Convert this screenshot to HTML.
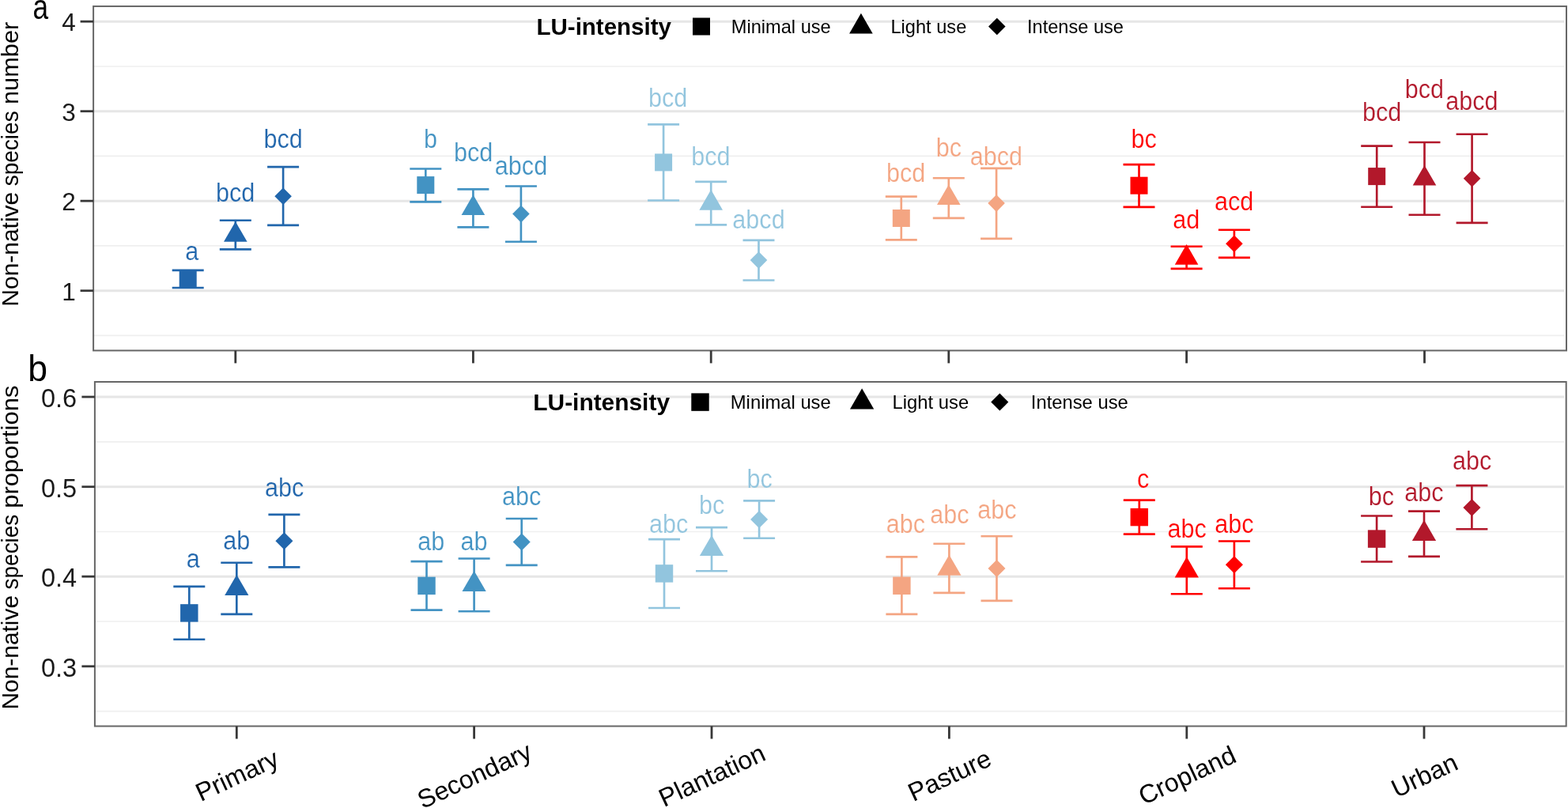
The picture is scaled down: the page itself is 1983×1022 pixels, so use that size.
<!DOCTYPE html>
<html lang="en">
<head>
<meta charset="utf-8">
<title>Non-native species by land use and LU-intensity</title>
<style>
html,body{margin:0;padding:0;background:#fff;}
body{width:1983px;height:1022px;overflow:hidden;}
svg{display:block;}
text{font-family:"Liberation Sans", sans-serif;}
.sig{font-size:33.5px;stroke:#fff;stroke-width:0.2px;}
.tick{font-size:31.5px;fill:#1a1a1a;}
.leg{font-size:23.6px;}
.legt{font-size:29px;font-weight:bold;}
.xlab{font-size:32.4px;}
.ytitle{font-family:"Liberation Sans", sans-serif;font-size:29.5px;}
.plab{font-family:"Liberation Sans", sans-serif;font-size:44px;}
</style>
</head>
<body>
<svg width="1983" height="1022" viewBox="0 0 1983 1022">
<rect width="1983" height="1022" fill="#ffffff"/>
<g class="panel-a">
<rect x="118.1" y="7.95" width="1862.9" height="435.45" fill="#ffffff"/>
<line x1="118.1" x2="1978.4" y1="83.95" y2="83.95" stroke="#efefef" stroke-width="1.6"/>
<line x1="118.1" x2="1978.4" y1="197.4" y2="197.4" stroke="#efefef" stroke-width="1.6"/>
<line x1="118.1" x2="1978.4" y1="310.9" y2="310.9" stroke="#efefef" stroke-width="1.6"/>
<line x1="118.1" x2="1978.4" y1="424.4" y2="424.4" stroke="#efefef" stroke-width="1.6"/>
<line x1="118.1" x2="1978.4" y1="27.2" y2="27.2" stroke="#e6e6e6" stroke-width="3"/>
<line x1="118.1" x2="1978.4" y1="140.7" y2="140.7" stroke="#e6e6e6" stroke-width="3"/>
<line x1="118.1" x2="1978.4" y1="254.15" y2="254.15" stroke="#e6e6e6" stroke-width="3"/>
<line x1="118.1" x2="1978.4" y1="367.7" y2="367.7" stroke="#e6e6e6" stroke-width="3"/>
<g class="grp" fill="#2166ac">
<path d="M217.7 341.8H257.7M237.7 341.8V364M217.7 364H257.7" stroke="#2166ac" stroke-width="2.65" fill="none"/>
<rect x="226.7" y="341.9" width="22" height="22" fill="#2166ac"/>
<text class="sig" transform="translate(242.7 329.4) scale(0.913 1)" text-anchor="middle" fill="#2166ac">a</text>
<path d="M277.8 278.7H317.8M297.8 278.7V315.4M277.8 315.4H317.8" stroke="#2166ac" stroke-width="2.65" fill="none"/>
<polygon points="297.8,280.2 312.61,305.85 282.99,305.85" fill="#2166ac"/>
<text class="sig" transform="translate(297.6 254.6) scale(0.913 1)" text-anchor="middle" fill="#2166ac">bcd</text>
<path d="M338.1 211.1H378.1M358.1 211.1V284.9M338.1 284.9H378.1" stroke="#2166ac" stroke-width="2.65" fill="none"/>
<polygon points="358.1,237.4 368.9,248.2 358.1,259 347.3,248.2" fill="#2166ac"/>
<text class="sig" transform="translate(358.1 187) scale(0.913 1)" text-anchor="middle" fill="#2166ac">bcd</text>
</g>
<g class="grp" fill="#4393c3">
<path d="M518.3 213.5H558.3M538.3 213.5V255.3M518.3 255.3H558.3" stroke="#4393c3" stroke-width="2.65" fill="none"/>
<rect x="527.3" y="223.1" width="22" height="22" fill="#4393c3"/>
<text class="sig" transform="translate(544.5 187) scale(0.913 1)" text-anchor="middle" fill="#4393c3">b</text>
<path d="M578.4 239.4H618.4M598.4 239.4V287.4M578.4 287.4H618.4" stroke="#4393c3" stroke-width="2.65" fill="none"/>
<polygon points="598.4,246.3 613.21,271.95 583.59,271.95" fill="#4393c3"/>
<text class="sig" transform="translate(598.6 204.4) scale(0.913 1)" text-anchor="middle" fill="#4393c3">bcd</text>
<path d="M638.9 235.5H678.9M658.9 235.5V305.7M638.9 305.7H678.9" stroke="#4393c3" stroke-width="2.65" fill="none"/>
<polygon points="658.9,259.8 669.7,270.6 658.9,281.4 648.1,270.6" fill="#4393c3"/>
<text class="sig" transform="translate(659 221.3) scale(0.913 1)" text-anchor="middle" fill="#4393c3">abcd</text>
</g>
<g class="grp" fill="#92c5de">
<path d="M819.1 157.3H859.1M839.1 157.3V253.5M819.1 253.5H859.1" stroke="#92c5de" stroke-width="2.65" fill="none"/>
<rect x="828.1" y="194.4" width="22" height="22" fill="#92c5de"/>
<text class="sig" transform="translate(844.7 135.1) scale(0.913 1)" text-anchor="middle" fill="#92c5de">bcd</text>
<path d="M879.2 229.8H919.2M899.2 229.8V284.4M879.2 284.4H919.2" stroke="#92c5de" stroke-width="2.65" fill="none"/>
<polygon points="899.2,240 914.01,265.65 884.39,265.65" fill="#92c5de"/>
<text class="sig" transform="translate(898.8 208.7) scale(0.913 1)" text-anchor="middle" fill="#92c5de">bcd</text>
<path d="M939.5 303.9H979.5M959.5 303.9V354.5M939.5 354.5H979.5" stroke="#92c5de" stroke-width="2.65" fill="none"/>
<polygon points="959.5,318.3 970.3,329.1 959.5,339.9 948.7,329.1" fill="#92c5de"/>
<text class="sig" transform="translate(959.5 289.4) scale(0.913 1)" text-anchor="middle" fill="#92c5de">abcd</text>
</g>
<g class="grp" fill="#f4a582">
<path d="M1119.8 248.6H1159.8M1139.8 248.6V303.4M1119.8 303.4H1159.8" stroke="#f4a582" stroke-width="2.65" fill="none"/>
<rect x="1128.8" y="265" width="22" height="22" fill="#f4a582"/>
<text class="sig" transform="translate(1145.7 229.8) scale(0.913 1)" text-anchor="middle" fill="#f4a582">bcd</text>
<path d="M1179.8 225.2H1219.8M1199.8 225.2V275.9M1179.8 275.9H1219.8" stroke="#f4a582" stroke-width="2.65" fill="none"/>
<polygon points="1199.8,233.4 1214.61,259.05 1184.99,259.05" fill="#f4a582"/>
<text class="sig" transform="translate(1200 198.1) scale(0.913 1)" text-anchor="middle" fill="#f4a582">bc</text>
<path d="M1240.1 212.9H1280.1M1260.1 212.9V301.9M1240.1 301.9H1280.1" stroke="#f4a582" stroke-width="2.65" fill="none"/>
<polygon points="1260.1,246.3 1270.9,257.1 1260.1,267.9 1249.3,257.1" fill="#f4a582"/>
<text class="sig" transform="translate(1259.9 208.8) scale(0.913 1)" text-anchor="middle" fill="#f4a582">abcd</text>
</g>
<g class="grp" fill="#ff0000">
<path d="M1420.5 208.1H1460.5M1440.5 208.1V261.9M1420.5 261.9H1460.5" stroke="#ff0000" stroke-width="2.65" fill="none"/>
<rect x="1429.5" y="223.7" width="22" height="22" fill="#ff0000"/>
<text class="sig" transform="translate(1446.6 187) scale(0.913 1)" text-anchor="middle" fill="#ff0000">bc</text>
<path d="M1480.6 311.7H1520.6M1500.6 311.7V339.8M1480.6 339.8H1520.6" stroke="#ff0000" stroke-width="2.65" fill="none"/>
<polygon points="1500.6,309 1515.41,334.65 1485.79,334.65" fill="#ff0000"/>
<text class="sig" transform="translate(1500.3 289.4) scale(0.913 1)" text-anchor="middle" fill="#ff0000">ad</text>
<path d="M1540.9 290.7H1580.9M1560.9 290.7V325.8M1540.9 325.8H1580.9" stroke="#ff0000" stroke-width="2.65" fill="none"/>
<polygon points="1560.9,297.5 1571.7,308.3 1560.9,319.1 1550.1,308.3" fill="#ff0000"/>
<text class="sig" transform="translate(1560.7 265.8) scale(0.913 1)" text-anchor="middle" fill="#ff0000">acd</text>
</g>
<g class="grp" fill="#b2182b">
<path d="M1721.2 184.6H1761.2M1741.2 184.6V261.7M1721.2 261.7H1761.2" stroke="#b2182b" stroke-width="2.65" fill="none"/>
<rect x="1730.2" y="212.1" width="22" height="22" fill="#b2182b"/>
<text class="sig" transform="translate(1747.7 152.6) scale(0.913 1)" text-anchor="middle" fill="#b2182b">bcd</text>
<path d="M1781.5 180H1821.5M1801.5 180V271.7M1781.5 271.7H1821.5" stroke="#b2182b" stroke-width="2.65" fill="none"/>
<polygon points="1801.5,208.9 1816.31,234.55 1786.69,234.55" fill="#b2182b"/>
<text class="sig" transform="translate(1801.4 123.6) scale(0.913 1)" text-anchor="middle" fill="#b2182b">bcd</text>
<path d="M1841.6 169.7H1881.6M1861.6 169.7V281.8M1841.6 281.8H1881.6" stroke="#b2182b" stroke-width="2.65" fill="none"/>
<polygon points="1861.6,215 1872.4,225.8 1861.6,236.6 1850.8,225.8" fill="#b2182b"/>
<text class="sig" transform="translate(1861.3 139.1) scale(0.913 1)" text-anchor="middle" fill="#b2182b">abcd</text>
</g>
<text class="legt" x="678.5" y="44" style="font-size:29.5px">LU-intensity</text>
<rect x="876" y="22.5" width="22" height="22" fill="#000"/>
<text class="leg" x="924.8" y="42" style="font-size:23.6px">Minimal use</text>
<polygon points="1088.9,16.8 1103.71,42.45 1074.09,42.45" fill="#000"/>
<text class="leg" x="1126.5" y="42" style="font-size:23.6px">Light use</text>
<polygon points="1260.8,22.7 1271.6,33.5 1260.8,44.3 1250,33.5" fill="#000"/>
<text class="leg" x="1299" y="42" style="font-size:23.6px">Intense use</text>
<rect x="118.1" y="7.95" width="1862.9" height="435.45" fill="none" stroke="#666666" stroke-width="2"/>
<line x1="101.6" x2="118.1" y1="27.2" y2="27.2" stroke="#383838" stroke-width="2.8"/>
<text class="tick" x="95.7" y="39.2" text-anchor="end" style="font-size:31.5px">4</text>
<line x1="101.6" x2="118.1" y1="140.7" y2="140.7" stroke="#383838" stroke-width="2.8"/>
<text class="tick" x="95.7" y="152.7" text-anchor="end" style="font-size:31.5px">3</text>
<line x1="101.6" x2="118.1" y1="254.15" y2="254.15" stroke="#383838" stroke-width="2.8"/>
<text class="tick" x="95.7" y="266.15" text-anchor="end" style="font-size:31.5px">2</text>
<line x1="101.6" x2="118.1" y1="367.7" y2="367.7" stroke="#383838" stroke-width="2.8"/>
<text class="tick" x="95.7" y="379.7" text-anchor="end" style="font-size:31.5px">1</text>
<line x1="297.8" x2="297.8" y1="443.4" y2="459.4" stroke="#383838" stroke-width="2.8"/>
<line x1="598.4" x2="598.4" y1="443.4" y2="459.4" stroke="#383838" stroke-width="2.8"/>
<line x1="899.2" x2="899.2" y1="443.4" y2="459.4" stroke="#383838" stroke-width="2.8"/>
<line x1="1199.8" x2="1199.8" y1="443.4" y2="459.4" stroke="#383838" stroke-width="2.8"/>
<line x1="1500.6" x2="1500.6" y1="443.4" y2="459.4" stroke="#383838" stroke-width="2.8"/>
<line x1="1801.5" x2="1801.5" y1="443.4" y2="459.4" stroke="#383838" stroke-width="2.8"/>
<text class="plab" transform="translate(41.5 23.6) scale(0.8 1)" style="font-size:44px">a</text>
<text class="ytitle" transform="translate(22.6 0) rotate(-90)"><tspan x="-387.7" textLength="144.95" lengthAdjust="spacingAndGlyphs">Non-native</tspan> <tspan x="-235.3" textLength="94.93" lengthAdjust="spacingAndGlyphs">species</tspan> <tspan x="-132.1" textLength="104.43" lengthAdjust="spacingAndGlyphs">number</tspan></text>
</g>
<g class="panel-b">
<rect x="119.9" y="483" width="1860.8" height="435.5" fill="#ffffff"/>
<line x1="119.9" x2="1978.1" y1="558.85" y2="558.85" stroke="#efefef" stroke-width="1.6"/>
<line x1="119.9" x2="1978.1" y1="672.45" y2="672.45" stroke="#efefef" stroke-width="1.6"/>
<line x1="119.9" x2="1978.1" y1="786" y2="786" stroke="#efefef" stroke-width="1.6"/>
<line x1="119.9" x2="1978.1" y1="899.6" y2="899.6" stroke="#efefef" stroke-width="1.6"/>
<line x1="119.9" x2="1978.1" y1="502" y2="502" stroke="#e6e6e6" stroke-width="3"/>
<line x1="119.9" x2="1978.1" y1="615.7" y2="615.7" stroke="#e6e6e6" stroke-width="3"/>
<line x1="119.9" x2="1978.1" y1="729.2" y2="729.2" stroke="#e6e6e6" stroke-width="3"/>
<line x1="119.9" x2="1978.1" y1="842.8" y2="842.8" stroke="#e6e6e6" stroke-width="3"/>
<g class="grp" fill="#2166ac">
<path d="M219.3 741.9H259.3M239.3 741.9V808.7M219.3 808.7H259.3" stroke="#2166ac" stroke-width="2.65" fill="none"/>
<rect x="228.08" y="764.18" width="22.44" height="22.44" fill="#2166ac"/>
<text class="sig" transform="translate(244.3 718.4) scale(0.913 1)" text-anchor="middle" fill="#2166ac">a</text>
<path d="M279.3 711.7H319.3M299.3 711.7V776.8M279.3 776.8H319.3" stroke="#2166ac" stroke-width="2.65" fill="none"/>
<polygon points="299.3,726.96 314.41,753.12 284.19,753.12" fill="#2166ac"/>
<text class="sig" transform="translate(299.2 695.4) scale(0.913 1)" text-anchor="middle" fill="#2166ac">ab</text>
<path d="M339.4 650.8H379.4M359.4 650.8V717.3M339.4 717.3H379.4" stroke="#2166ac" stroke-width="2.65" fill="none"/>
<polygon points="359.4,673.18 370.42,684.2 359.4,695.22 348.38,684.2" fill="#2166ac"/>
<text class="sig" transform="translate(359.6 628.3) scale(0.913 1)" text-anchor="middle" fill="#2166ac">abc</text>
</g>
<g class="grp" fill="#4393c3">
<path d="M519.5 710.1H559.5M539.5 710.1V771.6M519.5 771.6H559.5" stroke="#4393c3" stroke-width="2.65" fill="none"/>
<rect x="528.28" y="729.68" width="22.44" height="22.44" fill="#4393c3"/>
<text class="sig" transform="translate(545.2 695.7) scale(0.913 1)" text-anchor="middle" fill="#4393c3">ab</text>
<path d="M579.6 706.5H619.6M599.6 706.5V773.2M579.6 773.2H619.6" stroke="#4393c3" stroke-width="2.65" fill="none"/>
<polygon points="599.6,721.96 614.71,748.12 584.49,748.12" fill="#4393c3"/>
<text class="sig" transform="translate(599.5 695.7) scale(0.913 1)" text-anchor="middle" fill="#4393c3">ab</text>
<path d="M639.7 656H679.7M659.7 656V714.9M639.7 714.9H679.7" stroke="#4393c3" stroke-width="2.65" fill="none"/>
<polygon points="659.7,674.48 670.72,685.5 659.7,696.52 648.68,685.5" fill="#4393c3"/>
<text class="sig" transform="translate(659.7 638.8) scale(0.913 1)" text-anchor="middle" fill="#4393c3">abc</text>
</g>
<g class="grp" fill="#92c5de">
<path d="M820 682.1H860M840 682.1V769M820 769H860" stroke="#92c5de" stroke-width="2.65" fill="none"/>
<rect x="828.78" y="714.18" width="22.44" height="22.44" fill="#92c5de"/>
<text class="sig" transform="translate(845.7 673.5) scale(0.913 1)" text-anchor="middle" fill="#92c5de">abc</text>
<path d="M880 667.1H920M900 667.1V722.2M880 722.2H920" stroke="#92c5de" stroke-width="2.65" fill="none"/>
<polygon points="900,676.96 915.11,703.12 884.89,703.12" fill="#92c5de"/>
<text class="sig" transform="translate(900.2 650.3) scale(0.913 1)" text-anchor="middle" fill="#92c5de">bc</text>
<path d="M940.1 633.3H980.1M960.1 633.3V680.7M940.1 680.7H980.1" stroke="#92c5de" stroke-width="2.65" fill="none"/>
<polygon points="960.1,645.88 971.12,656.9 960.1,667.92 949.08,656.9" fill="#92c5de"/>
<text class="sig" transform="translate(960.6 616.6) scale(0.913 1)" text-anchor="middle" fill="#92c5de">bc</text>
</g>
<g class="grp" fill="#f4a582">
<path d="M1120.4 704.3H1160.4M1140.4 704.3V776.9M1120.4 776.9H1160.4" stroke="#f4a582" stroke-width="2.65" fill="none"/>
<rect x="1129.18" y="729.58" width="22.44" height="22.44" fill="#f4a582"/>
<text class="sig" transform="translate(1145.5 673.5) scale(0.913 1)" text-anchor="middle" fill="#f4a582">abc</text>
<path d="M1180.4 687.7H1220.4M1200.4 687.7V749.8M1180.4 749.8H1220.4" stroke="#f4a582" stroke-width="2.65" fill="none"/>
<polygon points="1200.4,701.66 1215.51,727.82 1185.29,727.82" fill="#f4a582"/>
<text class="sig" transform="translate(1200.8 662) scale(0.913 1)" text-anchor="middle" fill="#f4a582">abc</text>
<path d="M1240.5 678.2H1280.5M1260.5 678.2V759.9M1240.5 759.9H1280.5" stroke="#f4a582" stroke-width="2.65" fill="none"/>
<polygon points="1260.5,707.98 1271.52,719 1260.5,730.02 1249.48,719" fill="#f4a582"/>
<text class="sig" transform="translate(1261 656.3) scale(0.913 1)" text-anchor="middle" fill="#f4a582">abc</text>
</g>
<g class="grp" fill="#ff0000">
<path d="M1420.8 632.6H1460.8M1440.8 632.6V675.6M1420.8 675.6H1460.8" stroke="#ff0000" stroke-width="2.65" fill="none"/>
<rect x="1429.58" y="642.88" width="22.44" height="22.44" fill="#ff0000"/>
<text class="sig" transform="translate(1445.7 616.6) scale(0.913 1)" text-anchor="middle" fill="#ff0000">c</text>
<path d="M1480.8 691.3H1520.8M1500.8 691.3V751.2M1480.8 751.2H1520.8" stroke="#ff0000" stroke-width="2.65" fill="none"/>
<polygon points="1500.8,704.26 1515.91,730.42 1485.69,730.42" fill="#ff0000"/>
<text class="sig" transform="translate(1501.2 679.5) scale(0.913 1)" text-anchor="middle" fill="#ff0000">abc</text>
<path d="M1540.9 684.5H1580.9M1560.9 684.5V744.2M1540.9 744.2H1580.9" stroke="#ff0000" stroke-width="2.65" fill="none"/>
<polygon points="1560.9,703.28 1571.92,714.3 1560.9,725.32 1549.88,714.3" fill="#ff0000"/>
<text class="sig" transform="translate(1561 673.9) scale(0.913 1)" text-anchor="middle" fill="#ff0000">abc</text>
</g>
<g class="grp" fill="#b2182b">
<path d="M1721.1 652.5H1761.1M1741.1 652.5V710.5M1721.1 710.5H1761.1" stroke="#b2182b" stroke-width="2.65" fill="none"/>
<rect x="1729.88" y="670.38" width="22.44" height="22.44" fill="#b2182b"/>
<text class="sig" transform="translate(1747 638.7) scale(0.913 1)" text-anchor="middle" fill="#b2182b">bc</text>
<path d="M1781 646.6H1821M1801 646.6V703.9M1781 703.9H1821" stroke="#b2182b" stroke-width="2.65" fill="none"/>
<polygon points="1801,657.86 1816.11,684.02 1785.89,684.02" fill="#b2182b"/>
<text class="sig" transform="translate(1800.8 634.2) scale(0.913 1)" text-anchor="middle" fill="#b2182b">abc</text>
<path d="M1841.4 614.1H1881.4M1861.4 614.1V669.2M1841.4 669.2H1881.4" stroke="#b2182b" stroke-width="2.65" fill="none"/>
<polygon points="1861.4,630.98 1872.42,642 1861.4,653.02 1850.38,642" fill="#b2182b"/>
<text class="sig" transform="translate(1861.7 593.6) scale(0.913 1)" text-anchor="middle" fill="#b2182b">abc</text>
</g>
<text class="legt" x="674.3" y="518.5" style="font-size:29.9px">LU-intensity</text>
<rect x="874.28" y="497.38" width="22.44" height="22.44" fill="#000"/>
<text class="leg" x="923.8" y="516.7" style="font-size:23.8px">Minimal use</text>
<polygon points="1090.1,491.26 1105.21,517.42 1074.99,517.42" fill="#000"/>
<text class="leg" x="1128.6" y="516.7" style="font-size:23.8px">Light use</text>
<polygon points="1264.3,497.58 1275.32,508.6 1264.3,519.62 1253.28,508.6" fill="#000"/>
<text class="leg" x="1303.8" y="516.7" style="font-size:23.8px">Intense use</text>
<rect x="119.9" y="483" width="1860.8" height="435.5" fill="none" stroke="#666666" stroke-width="2"/>
<line x1="103.4" x2="119.9" y1="502" y2="502" stroke="#383838" stroke-width="2.8"/>
<text class="tick" x="97.2" y="514.9" text-anchor="end" style="font-size:32.5px">0.6</text>
<line x1="103.4" x2="119.9" y1="615.7" y2="615.7" stroke="#383838" stroke-width="2.8"/>
<text class="tick" x="97.2" y="628.6" text-anchor="end" style="font-size:32.5px">0.5</text>
<line x1="103.4" x2="119.9" y1="729.2" y2="729.2" stroke="#383838" stroke-width="2.8"/>
<text class="tick" x="97.2" y="742.1" text-anchor="end" style="font-size:32.5px">0.4</text>
<line x1="103.4" x2="119.9" y1="842.8" y2="842.8" stroke="#383838" stroke-width="2.8"/>
<text class="tick" x="97.2" y="855.7" text-anchor="end" style="font-size:32.5px">0.3</text>
<line x1="299.3" x2="299.3" y1="918.5" y2="934.5" stroke="#383838" stroke-width="2.8"/>
<line x1="599.6" x2="599.6" y1="918.5" y2="934.5" stroke="#383838" stroke-width="2.8"/>
<line x1="900" x2="900" y1="918.5" y2="934.5" stroke="#383838" stroke-width="2.8"/>
<line x1="1200.4" x2="1200.4" y1="918.5" y2="934.5" stroke="#383838" stroke-width="2.8"/>
<line x1="1500.8" x2="1500.8" y1="918.5" y2="934.5" stroke="#383838" stroke-width="2.8"/>
<line x1="1801" x2="1801" y1="918.5" y2="934.5" stroke="#383838" stroke-width="2.8"/>
<text class="plab" transform="translate(35.3 482.2) scale(0.955 1)" style="font-size:46.6px">b</text>
<text class="ytitle" transform="translate(22.6 0) rotate(-90)"><tspan x="-897.5" textLength="144.6" lengthAdjust="spacingAndGlyphs">Non-native</tspan> <tspan x="-745.4" textLength="94.7" lengthAdjust="spacingAndGlyphs">species</tspan> <tspan x="-642.8" textLength="155.26" lengthAdjust="spacingAndGlyphs">proportions</tspan></text>
</g>
<g class="xlabels">
<text class="xlab" transform="translate(299.8 980.8) rotate(-25)" text-anchor="middle" dominant-baseline="central">Primary</text>
<text class="xlab" transform="translate(600.1 980.8) rotate(-25)" text-anchor="middle" dominant-baseline="central">Secondary</text>
<text class="xlab" transform="translate(900.5 980.8) rotate(-25)" text-anchor="middle" dominant-baseline="central">Plantation</text>
<text class="xlab" transform="translate(1200.9 980.8) rotate(-25)" text-anchor="middle" dominant-baseline="central">Pasture</text>
<text class="xlab" transform="translate(1501.3 980.8) rotate(-25)" text-anchor="middle" dominant-baseline="central">Cropland</text>
<text class="xlab" transform="translate(1801.5 980.8) rotate(-25)" text-anchor="middle" dominant-baseline="central">Urban</text>
</g>
</svg>
</body>
</html>
